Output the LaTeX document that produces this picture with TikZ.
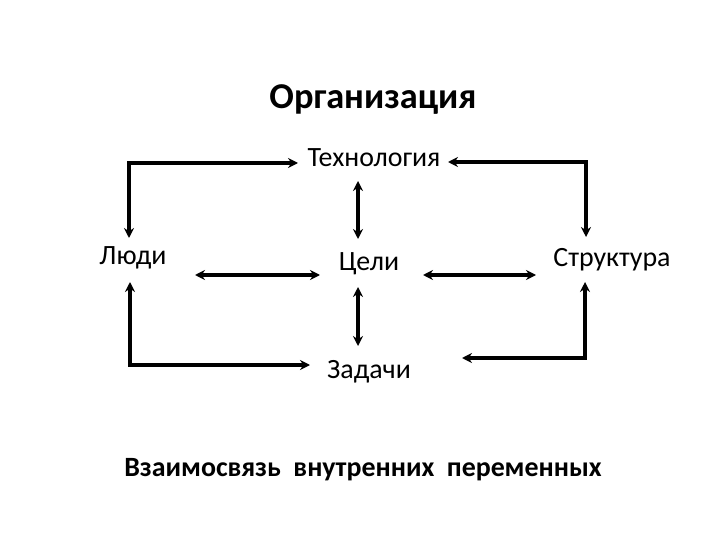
\documentclass[tikz,border=0pt]{standalone}
\usepackage{fontspec}
\setmainfont{Carlito}
\usetikzlibrary{arrows.meta}
\begin{document}
\begin{tikzpicture}[x=1bp,y=-1bp,
  lbl/.style={inner sep=0pt, font=\fontsize{28}{32}\selectfont},
  conn/.style={line width=3.2bp, {Stealth[length=10bp,width=10bp]}-{Stealth[length=10bp,width=10bp]}}]
\useasboundingbox (0,0) rectangle (720,540);
\node[inner sep=0pt, font=\fontsize{36.5}{40}\selectfont\bfseries] (title) at (373,100) {Организация};
\node[lbl] (tech) at (374,158) {Технология};
\node[lbl] (people) at (133,258) {Люди};
\node[lbl] (goals) at (369,264) {Цели};
\node[lbl] (struct) at (612,260) {Структура};
\node[lbl] (tasks) at (369,372) {Задачи};
\node[inner sep=0pt, font=\fontsize{28}{32}\selectfont\bfseries] (caption) at (363,470) {Взаимосвязь\ \ внутренних\ \ переменных};
% coordinates
\coordinate (tlc) at (129,163);
\coordinate (tle) at (298,163);
\coordinate (tld) at (129,238);
\coordinate (trc) at (586,162);
\coordinate (tre) at (448,162);
\coordinate (trd) at (586,237);
\coordinate (v1a) at (358,181);
\coordinate (v1b) at (358,239);
\coordinate (v2a) at (358,287);
\coordinate (v2b) at (358,346);
\coordinate (h1a) at (195,275);
\coordinate (h1b) at (320,275);
\coordinate (h2a) at (423,275);
\coordinate (h2b) at (536,275);
\coordinate (blu) at (130,282);
\coordinate (blc) at (130,365);
\coordinate (ble) at (310,365);
\coordinate (bru) at (585,282);
\coordinate (brc) at (585,358);
\coordinate (bre) at (462,358);
% connectors
\draw[conn] (tld) -- (tlc) -- (tle);
\draw[conn] (trd) -- (trc) -- (tre);
\draw[conn] (v1a) -- (v1b);
\draw[conn] (v2a) -- (v2b);
\draw[conn] (h1a) -- (h1b);
\draw[conn] (h2a) -- (h2b);
\draw[conn] (blu) -- (blc) -- (ble);
\draw[conn] (bru) -- (brc) -- (bre);
\end{tikzpicture}
\end{document}
